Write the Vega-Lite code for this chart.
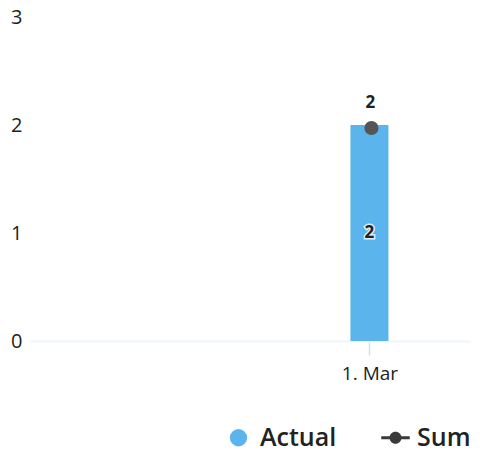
{
  "$schema": "https://vega.github.io/schema/vega-lite/v6.json",
  "width": 440,
  "height": 324,
  "padding": {"left": 30, "top": 17, "right": 10, "bottom": 117},
  "autosize": {"type": "none"},
  "background": "white",
  "config": {
    "font": "Open Sans",
    "view": {"stroke": null}
  },
  "data": {
    "values": [
      {"date": "2023-03-01", "series": "Actual", "value": 2},
      {"date": "2023-03-01", "series": "Sum", "value": 2}
    ]
  },
  "layer": [
    {
      "transform": [{"filter": "datum.series === 'Actual'"}],
      "mark": {"type": "bar", "width": 38},
      "encoding": {
        "x": {
          "field": "date", "type": "temporal",
          "scale": {"type": "utc", "domain": [{"year": 2023, "month": 2, "date": 1, "utc": true}, {"year": 2023, "month": 3, "date": 9, "utc": true}]},
          "axis": {
            "values": [{"year": 2023, "month": 3, "date": 1, "utc": true}],
            "labelExpr": "utcFormat(datum.value, '%-d. %b')", "title": null,
            "grid": false, "domainColor": "#f0f5f9", "domainWidth": 2,
            "tickColor": "#c8e4f6", "tickSize": 14, "tickWidth": 1.5,
            "labelFontSize": 19, "labelColor": "#222", "labelPadding": 9, "labelFont": "Open Sans"
          }
        },
        "y": {
          "field": "value", "type": "quantitative",
          "scale": {"domain": [0, 3]},
          "axis": {
            "values": [0, 1, 2, 3], "format": "d", "title": null, "grid": false, "domain": false, "ticks": false,
            "labelFontSize": 20, "labelColor": "#222", "labelPadding": 8, "labelFont": "Open Sans"
          }
        },
        "color": {
          "field": "series", "type": "nominal",
          "scale": {"domain": ["Actual", "Sum"], "range": ["#5cb4ec", "#3a3a3a"]},
          "legend": {
            "orient": "none", "legendX": 196, "legendY": 408, "direction": "horizontal",
            "title": null, "labelFontSize": 25, "labelFontWeight": 600, "labelColor": "#222", "labelFont": "Open Sans",
            "symbolSize": 300, "columnPadding": 44, "symbolStrokeWidth": 0, "labelOffset": 9,
            "encode": {
              "symbols": {
                "update": {
                  "shape": {"signal": "datum.label === 'Sum' ? 'M-1.3,-0.13L1.3,-0.13L1.3,0.13L-1.3,0.13Z M-0.55,0A0.55,0.55,0,1,1,0.55,0A0.55,0.55,0,1,1,-0.55,0Z' : 'circle'"},
                  "size": {"signal": "datum.label === 'Sum' ? 480 : 300"},
                  "fill": {"signal": "datum.label === 'Sum' ? '#3a3a3a' : '#5cb4ec'"},
                  "opacity": {"value": 1}
                }
              }
            }
          }
        }
      }
    },
    {
      "transform": [{"filter": "datum.series === 'Actual'"}],
      "mark": {"type": "text", "fontSize": 17, "fontWeight": "bold", "color": "#222", "stroke": "white", "strokeWidth": 3, "strokeOpacity": 0.8, "baseline": "middle"},
      "encoding": {
        "x": {"field": "date", "type": "temporal"},
        "y": {"datum": 1},
        "text": {"field": "value"}
      }
    },
    {
      "transform": [{"filter": "datum.series === 'Actual'"}],
      "mark": {"type": "text", "fontSize": 17, "fontWeight": "bold", "color": "#222", "baseline": "middle"},
      "encoding": {
        "x": {"field": "date", "type": "temporal"},
        "y": {"datum": 1},
        "text": {"field": "value"}
      }
    },
    {
      "transform": [{"filter": "datum.series === 'Sum'"}],
      "mark": {"type": "point", "filled": true, "size": 200, "color": "#555", "opacity": 1, "xOffset": 2, "yOffset": 3},
      "encoding": {
        "x": {"field": "date", "type": "temporal"},
        "y": {"field": "value", "type": "quantitative"}
      }
    },
    {
      "transform": [{"filter": "datum.series === 'Sum'"}],
      "mark": {"type": "text", "fontSize": 17, "fontWeight": "bold", "color": "#222", "dy": -22, "dx": 1},
      "encoding": {
        "x": {"field": "date", "type": "temporal"},
        "y": {"field": "value", "type": "quantitative"},
        "text": {"field": "value"}
      }
    }
  ]
}
